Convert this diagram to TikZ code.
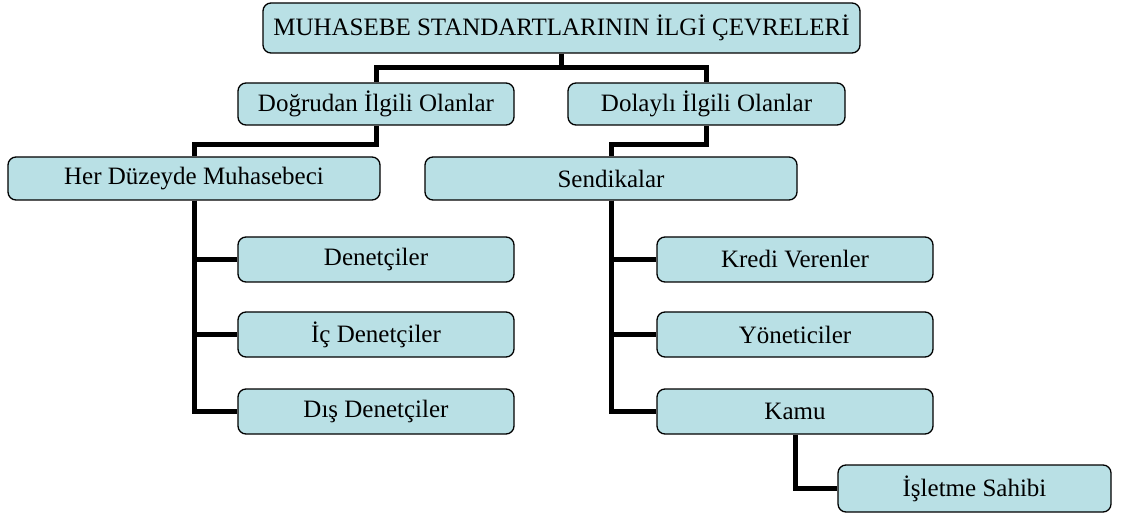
\documentclass[tikz,border=0pt]{standalone}
\usepackage{fontspec}
\setmainfont{Liberation Serif}
\definecolor{boxfill}{RGB}{185,224,229}
\tikzset{
  box/.style={draw=black, line width=1.3pt, fill=boxfill, rounded corners=8pt, inner sep=0pt, font=\fontsize{25}{28}\selectfont},
  conn/.style={draw=black, line width=5pt, line join=miter}
}
\begin{document}
\begin{tikzpicture}[x=1pt,y=-1pt]
\useasboundingbox (0,0) rectangle (1121,518);
\coordinate (j1) at (0,68);
\coordinate (j2) at (0,145);
\node[box, minimum width=597pt, minimum height=50pt] (top) at (561.5,28) {MUHASEBE STANDARTLARININ İLGİ ÇEVRELERİ};
\node[box, minimum width=276pt, minimum height=42pt] (dog) at (376,104) {Doğrudan İlgili Olanlar};
\node[box, minimum width=277pt, minimum height=42pt] (dol) at (706.5,104) {Dolaylı İlgili Olanlar};
\node[box, minimum width=372pt, minimum height=43pt] (her) at (194,178.5) {Her Düzeyde Muhasebeci};
\node[box, minimum width=372pt, minimum height=43pt] (sen) at (611,178.5) {Sendikalar};
\node[box, minimum width=276pt, minimum height=45pt] (den) at (376,259.5) {Denetçiler};
\node[box, minimum width=276pt, minimum height=45pt] (ic) at (376,334.5) {İç Denetçiler};
\node[box, minimum width=276pt, minimum height=45pt] (dis) at (376,411.5) {Dış Denetçiler};
\node[box, minimum width=276pt, minimum height=45pt] (kre) at (795,259.5) {Kredi Verenler};
\node[box, minimum width=276pt, minimum height=45pt] (yon) at (795,334.5) {Yöneticiler};
\node[box, minimum width=276pt, minimum height=45pt] (kam) at (795,411.5) {Kamu};
\node[box, minimum width=273pt, minimum height=47pt] (isl) at (974.5,488.5) {İşletme Sahibi};
\draw[conn] (top.south) -- (top.south |- j1) -| (dog.north);
\draw[conn] (top.south) -- (top.south |- j1) -| (dol.north);
\draw[conn] (dog.south) -- (dog.south |- j2) -| (her.north);
\draw[conn] (dol.south) -- (dol.south |- j2) -| (sen.north);
\draw[conn] (her.south) |- (den.west);
\draw[conn] (her.south) |- (ic.west);
\draw[conn] (her.south) |- (dis.west);
\draw[conn] (sen.south) |- (kre.west);
\draw[conn] (sen.south) |- (yon.west);
\draw[conn] (sen.south) |- (kam.west);
\draw[conn] (kam.south) |- (isl.west);
\end{tikzpicture}
\end{document}
